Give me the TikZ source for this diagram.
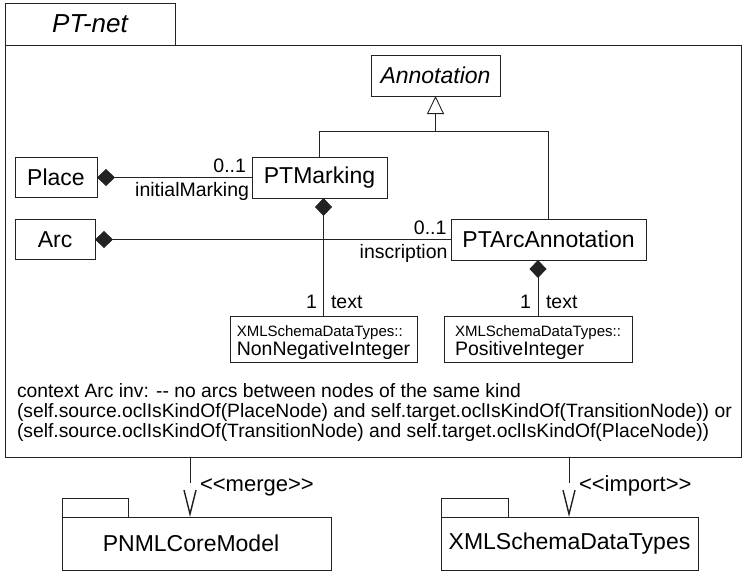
\documentclass[tikz,border=0pt]{standalone}
\usepackage{fontspec}
\setmainfont{Liberation Sans}
\usetikzlibrary{arrows.meta}
\definecolor{ink}{HTML}{222222}

\begin{document}
\begin{tikzpicture}[x=1pt, y=-1pt, line width=0.9pt, draw=ink, text=black,
  every node/.style={inner sep=0pt, outer sep=0pt},
  cls/.style={draw=ink, fill=white, minimum height=41pt, font=\fontsize{23}{26}\selectfont},
  typ/.style={draw=ink, minimum height=46pt, align=left, font=\fontsize{19.5}{19}\selectfont},
  lbl/.style={font=\fontsize{19.5}{20}\selectfont},
  deplbl/.style={font=\fontsize{22}{24}\selectfont},
  comp/.style={{Diamond[length=18pt,width=17pt]}-},
  gen/.style={-{Triangle[open,length=18pt,width=17pt]}},
  dep/.style={dash pattern=on 26pt off 80pt, -{Straight Barb[length=24pt,width=12pt,line width=1.4pt]}},
  pkgtab/.style={draw=ink, fill=white}
]
\useasboundingbox (0,0) rectangle (744,571);

% outer package PT-net
\node[draw=ink, minimum width=170pt, minimum height=42pt, font=\fontsize{26}{28}\itshape] (tab) at (90,24) {PT-net};
\node[draw=ink, minimum width=736pt, minimum height=412pt] (frame) at (373,251) {};

% classes
\node[cls, minimum width=129pt, font=\fontsize{23}{26}\itshape] (annotation) at (435.5,75.5) {Annotation};
\node[cls, minimum width=82pt, minimum height=40pt] (place) at (56,177.5) {Place};
\node[cls, minimum width=135pt] (ptm) at (319.5,177.5) {PTMarking};
\node[cls, minimum width=80pt, minimum height=40pt] (arc) at (55,239.5) {Arc};
\node[cls, minimum width=195pt] (pta) at (548.5,239.5) {PTArcAnnotation};
\node[typ, minimum width=187pt] (nonneg) at (323.5,339)
  {\rule{0pt}{19pt}{\fontsize{15}{19}\selectfont XMLSchemaDataTypes::}\\NonNegativeInteger};
\node[typ, minimum width=188pt] (posint) at (538,339)
  {\rule{0pt}{19pt}{\fontsize{15}{19}\selectfont XMLSchemaDataTypes::}\\PositiveInteger};

% generalization towards Annotation
\coordinate (gj) at (435.5,131);
\draw (ptm.north) |- (gj);
\draw (pta.north) |- (gj);
\draw[gen] (gj) -- (annotation.south);

% compositions
\draw[comp] (place) -- (ptm);
\draw[comp] (arc) -- (pta);
\draw[comp] (ptm.south -| nonneg.north) -- (nonneg.north);
\draw[comp] (pta.south -| posint.north) -- (posint.north);

% association end labels
\node[lbl, anchor=base east] (m1) at (246,172.5) {0..1};
\node[lbl, anchor=base east] (r1) at (249,196.5) {initialMarking};
\node[lbl, anchor=base east] (m2) at (446.5,234) {0..1};
\node[lbl, anchor=base east] (r2) at (447.5,258.5) {inscription};
\node[lbl, anchor=base east] (m3) at (317,308.5) {1};
\node[lbl, anchor=base west] (r3) at (331,308.5) {text};
\node[lbl, anchor=base east] (m4) at (531,308.5) {1};
\node[lbl, anchor=base west] (r4) at (546,308.5) {text};

% OCL constraint
\node[lbl, font=\fontsize{19.3}{20}\selectfont, anchor=north west, align=left] (inv) at (17,384)
  {context Arc inv: -{}- no arcs between nodes of the same kind\\
   (self.source.oclIsKindOf(PlaceNode) and self.target.oclIsKindOf(TransitionNode)) or\\
   (self.source.oclIsKindOf(TransitionNode) and self.target.oclIsKindOf(PlaceNode))};

% referenced packages
\node[cls, minimum width=269pt, minimum height=53pt] (pnml) at (196.5,543.5) {PNMLCoreModel\hspace*{11pt}};
\draw[pkgtab] (pnml.north west) rectangle ++(66,-19);
\node[cls, minimum width=257pt, minimum height=53pt] (xsd) at (569.5,543.5) {XMLSchemaDataTypes};
\draw[pkgtab] (xsd.north west) rectangle ++(67,-19);

% package dependencies
\coordinate (mfrom) at (190,457);
\coordinate (ifrom) at (569,457);
\draw[dep] (mfrom) -- (mfrom |- pnml.north);
\draw[dep] (ifrom) -- (ifrom |- xsd.north);
\node[deplbl, anchor=base west] (mlab) at (200,491) {<{}<merge>{}>};
\node[deplbl, anchor=base west] (ilab) at (579,491) {<{}<import>{}>};
\end{tikzpicture}
\end{document}
